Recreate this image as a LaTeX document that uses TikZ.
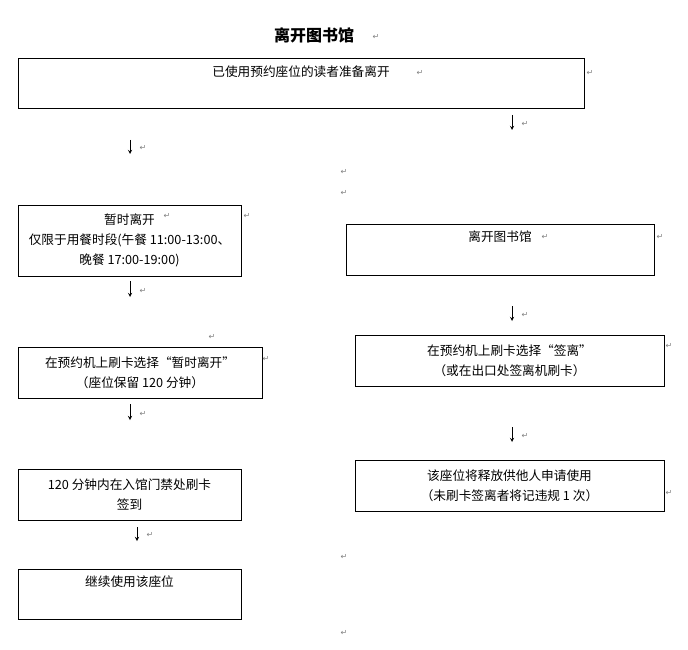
\documentclass[tikz,border=0pt]{standalone}
\usepackage{fontspec}
\newfontfamily\cjk{Noto Sans CJK SC}
\newfontfamily\symfont{DejaVu Sans}
\begin{document}
\begin{tikzpicture}
  [x=0.75pt, y=-0.75pt,
   box/.style={draw, thin, inner sep=0pt, align=center, font=\cjk\fontsize{9.5}{15}\selectfont},
   txt/.style={box, draw=none},
   pmark/.style={text=gray, font=\symfont\fontsize{6}{6}\selectfont, inner sep=0pt},
   arr/.style={-stealth, thin}]
  \useasboundingbox (0,0) rectangle (688,649);

  \node[font=\cjk\bfseries\fontsize{12}{14}\selectfont] (title) at (314,35) {离开图书馆};

  % boxes, by pixel corners
  \draw (18,58) rectangle (584,108);
  \node[txt] (start) at (301,72) {已使用预约座位的读者准备离开};
  \node[box, minimum width=223*0.75pt, minimum height=71*0.75pt] (temp) at (129.5,240.5)
    {暂时离开\\仅限于用餐时段(午餐 11:00-13:00、\\晚餐 17:00-19:00)};
  \draw (346,224) rectangle (654,275);
  \node[txt] (leave) at (500,237) {离开图书馆};
  \node[box, minimum width=244*0.75pt, minimum height=51*0.75pt] (swipeT) at (140,372.5)
    {在预约机上刷卡选择“暂时离开”\\（座位保留 120 分钟）};
  \node[box, minimum width=309*0.75pt, minimum height=51*0.75pt] (swipeL) at (509.5,360.5)
    {在预约机上刷卡选择“签离”\\（或在出口处签离机刷卡）};
  \node[box, minimum width=223*0.75pt, minimum height=51*0.75pt] (back) at (129.5,494.5)
    {120 分钟内在入馆门禁处刷卡\\签到};
  \node[box, minimum width=309*0.75pt, minimum height=51*0.75pt] (free) at (509.5,485.5)
    {该座位将释放供他人申请使用\\（未刷卡签离者将记违规 1 次）};
  \draw (18,569) rectangle (241,619);
  \node[txt] (keep) at (129.5,582) {继续使用该座位};

  % short arrows
  \foreach \x/\ya/\yb in {130/140/154, 512/115/130, 130/281/297, 512/306/321,
                          130/404/420, 512/427/442, 137/527/541}{
    \coordinate (a) at (\x,\ya);
    \coordinate (b) at (\x,\yb);
    \draw[arr] (a) -- (b);
    \node[pmark] at (\x+13,\yb-6) {↵};
  }

  % paragraph marks
  \foreach \x/\y in {376/37, 420/73, 590/73, 344/172, 344/193, 167/216, 247/216,
                     545/237, 660/237, 212/337, 266/359, 669/346, 669/493, 344/557, 344/633}{
    \node[pmark] at (\x,\y) {↵};
  }
\end{tikzpicture}
\end{document}
